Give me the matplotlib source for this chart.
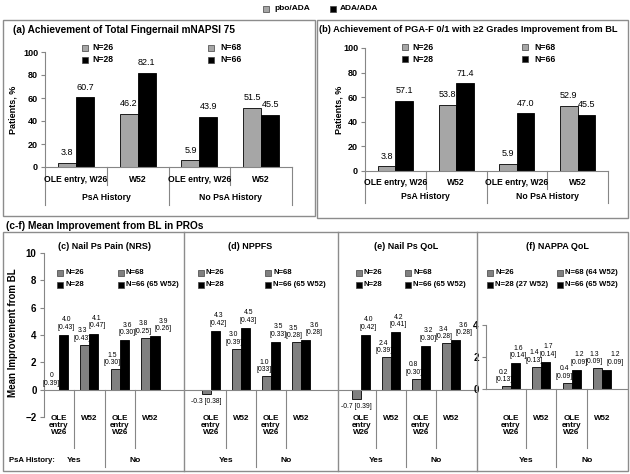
import matplotlib
matplotlib.use('Agg')
import matplotlib.pyplot as plt
from matplotlib.patches import Rectangle

plt.rcParams['font.family'] = ['Liberation Sans', 'DejaVu Sans']

# ---- data ----
top_cats = ['OLE entry, W26', 'W52', 'OLE entry, W26', 'W52']
top_hist = ['PsA History', 'No PsA History']

a_pbo = [3.8, 46.2, 5.9, 51.5]
a_ada = [60.7, 82.1, 43.9, 45.5]
b_pbo = [3.8, 53.8, 5.9, 52.9]
b_ada = [57.1, 71.4, 47.0, 45.5]

bot_cats = ['OLE\nentry\nW26', 'W52', 'OLE\nentry\nW26', 'W52']
bot_hist = ['Yes', 'No']

c_pbo = [0, 3.3, 1.5, 3.8]
c_pbo_se = ['0.39', '0.43', '0.30', '0.25']
c_ada = [4.0, 4.1, 3.6, 3.9]
c_ada_se = ['0.43', '0.47', '0.30', '0.26']

d_pbo = [-0.3, 3.0, 1.0, 3.5]
d_pbo_se = ['0.38', '0.39', '033', '0.28']
d_ada = [4.3, 4.5, 3.5, 3.6]
d_ada_se = ['0.42', '0.43', '0.33', '0.28']

e_pbo = [-0.7, 2.4, 0.8, 3.4]
e_pbo_se = ['0.39', '0.39', '0.30', '0.28']
e_ada = [4.0, 4.2, 3.2, 3.6]
e_ada_se = ['0.42', '0.41', '0.30', '0.28']

f_pbo = [0.2, 1.4, 0.4, 1.3]
f_pbo_se = ['0.13', '0.13', '0.09', '0.09']
f_ada = [1.6, 1.7, 1.2, 1.2]
f_ada_se = ['0.14', '0.14', '0.09', '0.09']

n_top = ['N=26', 'N=28', 'N=68', 'N=66']
n_cde = ['N=26', 'N=28', 'N=68', 'N=66 (65 W52)']
n_f = ['N=26', 'N=28 (27 W52)', 'N=68 (64 W52)', 'N=66 (65 W52)']

PBO_TOP = '#a6a6a6'
PBO_BOT = '#808080'
ADA = '#000000'
FRAME = '#8c8c8c'
AXC = '#868686'

W, H = 630, 474
fig = plt.figure(figsize=(6.3, 4.74), dpi=100)


def fx(x):
    return x / W


def fy(y):
    return 1 - y / H


def rect(l, t, r, b):
    return [l / W, 1 - b / H, (r - l) / W, (b - t) / H]


def ftext(x, y, s, **kw):
    fig.text(fx(x), fy(y), s, **kw)


def key(x, y, color, label, gap, fs):
    fig.add_artist(Rectangle((fx(x), fy(y + 3)), 6 / W, 6 / H, fc=color, ec='#404040',
                             lw=0.5, transform=fig.transFigure))
    ftext(x + gap, y, label, ha='left', va='center', fontsize=fs, fontweight='bold')


def vline(x0, y0, y1, lw=0.8):
    fig.add_artist(plt.Line2D([fx(x0), fx(x0)], [fy(y0), fy(y1)], color=FRAME, lw=lw,
                              transform=fig.transFigure))


# frames
fig.add_artist(Rectangle((fx(3), fy(216)), fx(315) - fx(3), fy(20) - fy(216), fill=False,
                         ec=FRAME, lw=1, transform=fig.transFigure))
fig.add_artist(Rectangle((fx(317), fy(218)), fx(628) - fx(317), fy(20) - fy(218), fill=False,
                         ec=FRAME, lw=1, transform=fig.transFigure))
fig.add_artist(Rectangle((fx(3), fy(471)), fx(628) - fx(3), fy(232) - fy(471), fill=False,
                         ec=FRAME, lw=1, transform=fig.transFigure))
for xb in [184, 338, 477]:
    vline(xb, 232, 471, lw=1)

# global legend
key(263, 9, PBO_TOP, 'pbo/ADA', 11, 6)
key(330, 9, ADA, 'ADA/ADA', 10, 6)


def top_panel(box, pbo, ada, title, tx, tfs, ylx, leg_l, leg_r, leg_y, cat_y, hist_y, in_b, out_b):
    l, t, r, b = box
    ax = fig.add_axes(rect(l, t, r, b))
    x = list(range(4))
    w = 0.29
    ax.bar([i - w / 2 for i in x], pbo, w, color=PBO_TOP, edgecolor='black', lw=0.6)
    ax.bar([i + w / 2 for i in x], ada, w, color=ADA, edgecolor='black', lw=0.6)
    for i in x:
        ax.annotate(f'{pbo[i]:.1f}', (i - w / 2, pbo[i]), xytext=(0, 4), textcoords='offset points',
                    ha='center', va='bottom', fontsize=6.5)
        ax.annotate(f'{ada[i]:.1f}', (i + w / 2, ada[i]), xytext=(0, 4), textcoords='offset points',
                    ha='center', va='bottom', fontsize=6.5)
    ax.set_xlim(-0.5, 3.5)
    ax.set_ylim(0, 100)
    ax.set_yticks(range(0, 101, 20))
    ax.set_xticks([])
    for s in ['top', 'right']:
        ax.spines[s].set_visible(False)
    for s in ['left', 'bottom']:
        ax.spines[s].set_color(AXC)
    ax.tick_params(axis='y', labelsize=6.5, length=3, color=AXC, pad=2)
    for lab in ax.get_yticklabels():
        lab.set_fontweight('bold')
    ax.patch.set_alpha(0)

    def ay(py):
        return (b - py) / (b - t)
    tr = ax.get_xaxis_transform()
    for xb in [-0.5, 1.5, 3.5]:
        ax.plot([xb, xb], [0, ay(out_b)], color=AXC, lw=0.8, transform=tr, clip_on=False)
    for xb in [0.5, 2.5]:
        ax.plot([xb, xb], [0, ay(in_b)], color=AXC, lw=0.8, transform=tr, clip_on=False)
    for i, c in enumerate(top_cats):
        ax.text(i, ay(cat_y), c, transform=tr, ha='center', va='center', fontsize=6.2,
                fontweight='bold')
    for j, h in enumerate(top_hist):
        ax.text(2 * j + 0.5, ay(hist_y), h, transform=tr, ha='center', va='center', fontsize=6.2,
                fontweight='bold')
    ftext(tx, 30, title, ha='left', va='center', fontsize=tfs, fontweight='bold')
    ftext(ylx, (t + b) / 2, 'Patients, %', rotation=90, ha='center', va='center', fontsize=6.5,
          fontweight='bold')
    key(leg_l, leg_y, PBO_TOP, n_top[0], 10, 6.2)
    key(leg_l, leg_y + 12, ADA, n_top[1], 10, 6.2)
    key(leg_r, leg_y, PBO_TOP, n_top[2], 12, 6.2)
    key(leg_r, leg_y + 12, ADA, n_top[3], 12, 6.2)
    return ax


top_panel((45, 52, 292, 167), a_pbo, a_ada, '(a) Achievement of Total Fingernail mNAPSI 75',
          13, 7.2, 13, 82, 208, 48, 179, 197, 185, 205)
top_panel((365, 48, 608, 171), b_pbo, b_ada,
          '(b) Achievement of PGA-F 0/1 with \u22652 Grades Improvement from BL',
          319, 6.7, 339, 402, 522, 47, 183, 197, 189, 203)

ftext(6, 226, '(c-f) Mean Improvement from BL in PROs', ha='left', va='center', fontsize=7.3,
      fontweight='bold')


def fmt(v):
    return '0' if v == 0 else f'{v:.1f}'


def bot_panel(box, xlim, ylim, pbo, pbo_se, ada, ada_se, title, tcx, legs, leg_l, leg_r,
              yaxis=None):
    l, t, r, b = box
    ax = fig.add_axes(rect(l, t, r, b))
    ax.patch.set_alpha(0)
    x = list(range(4))
    w = 0.3
    ax.bar([i - w / 2 for i in x], pbo, w, color=PBO_BOT, edgecolor='black', lw=0.6)
    ax.bar([i + w / 2 for i in x], ada, w, color=ADA, edgecolor='black', lw=0.6)
    for i in x:
        if pbo[i] < 0:
            ax.annotate(f'{fmt(pbo[i])} [{pbo_se[i]}]', (i - w / 2, pbo[i]), xytext=(0, -3),
                        textcoords='offset points', ha='center', va='top', fontsize=4.9)
        else:
            ax.annotate(f'{fmt(pbo[i])}\n[{pbo_se[i]}]', (i - w / 2, pbo[i]), xytext=(-2, 2),
                        textcoords='offset points', ha='center', va='bottom', fontsize=4.9,
                        linespacing=1.1)
        # the last label of each panel sits a little further right, as in the source
        dx = 6 if i == 3 else 2
        ax.annotate(f'{fmt(ada[i])}\n[{ada_se[i]}]', (i + w / 2, ada[i]), xytext=(dx, 3),
                    textcoords='offset points', ha='center', va='bottom', fontsize=4.9,
                    linespacing=1.1)
    ax.set_xlim(*xlim)
    ax.set_ylim(*ylim)
    ax.set_xticks([])
    for s in ['top', 'right', 'bottom', 'left']:
        ax.spines[s].set_visible(False)
    xmin = 0
    if yaxis is not None:
        pos, ticks = yaxis
        ax.spines['left'].set_visible(True)
        ax.spines['left'].set_color(AXC)
        ax.spines['left'].set_position(('data', pos))
        ax.spines['left'].set_bounds(ticks[0], ticks[-1])
        ax.set_yticks(ticks)
        ax.tick_params(axis='y', labelsize=7, length=3, color=AXC, pad=2)
        for lab in ax.get_yticklabels():
            lab.set_fontweight('bold')
        xmin = (pos - xlim[0]) / (xlim[1] - xlim[0])
    else:
        ax.set_yticks([])
    ax.axhline(0, xmin=xmin, color=AXC, lw=0.8)

    def ay(py):
        return (b - py) / (b - t)
    tr = ax.get_xaxis_transform()
    zero = ax.transLimits.transform((0, 0))[1]
    for xb in [0.5, 2.5]:
        ax.plot([xb, xb], [zero, ay(448)], color=AXC, lw=0.8, transform=tr, clip_on=False)
    ax.plot([1.5, 1.5], [zero, ay(467)], color=AXC, lw=0.8, transform=tr, clip_on=False)
    for i, c in enumerate(bot_cats):
        ax.text(i, ay(415), c, transform=tr, ha='center', va='top', fontsize=5.8,
                fontweight='bold', linespacing=1.05)
    for j, h in enumerate(bot_hist):
        ax.text(2 * j + 0.5, ay(460), h, transform=tr, ha='center', va='center', fontsize=6,
                fontweight='bold')
    ftext(tcx, 247, title, ha='center', va='center', fontsize=6.5, fontweight='bold')
    key(leg_l, 273, PBO_BOT, legs[0], 8, 5.6)
    key(leg_l, 285, ADA, legs[1], 8, 5.6)
    key(leg_r, 273, PBO_BOT, legs[2], 8, 5.6)
    key(leg_r, 285, ADA, legs[3], 8, 5.6)
    return ax


bot_panel((43.5, 253, 184, 417), (-0.5, 4.1), (-2, 10), c_pbo, c_pbo_se, c_ada, c_ada_se,
          '(c) Nail Ps Pain (NRS)', 105, n_cde, 57, 118, yaxis=(-0.5, list(range(-2, 11, 2))))
bot_panel((184, 253, 338, 417), (-0.9, 4.23), (-2, 10), d_pbo, d_pbo_se, d_ada, d_ada_se,
          '(d) NPPFS', 250, n_cde, 198, 265)
bot_panel((338, 253, 477, 417), (-0.77, 3.87), (-2, 10), e_pbo, e_pbo_se, e_ada, e_ada_se,
          '(e) Nail Ps QoL', 406, n_cde, 356, 405)
bot_panel((477, 253, 628, 417), (-1.12, 3.86), (-1.75, 8.5), f_pbo, f_pbo_se, f_ada, f_ada_se,
          '(f) NAPPA QoL', 557, n_f, 487, 557, yaxis=(-0.83, [0, 2, 4]))

ftext(9, 460, 'PsA History:', ha='left', va='center', fontsize=5.6, fontweight='bold')
ftext(13, 333, 'Mean Improvement from BL', rotation=90, ha='center', va='center', fontsize=7,
      fontweight='bold')

fig.savefig('out.png', dpi=100)
